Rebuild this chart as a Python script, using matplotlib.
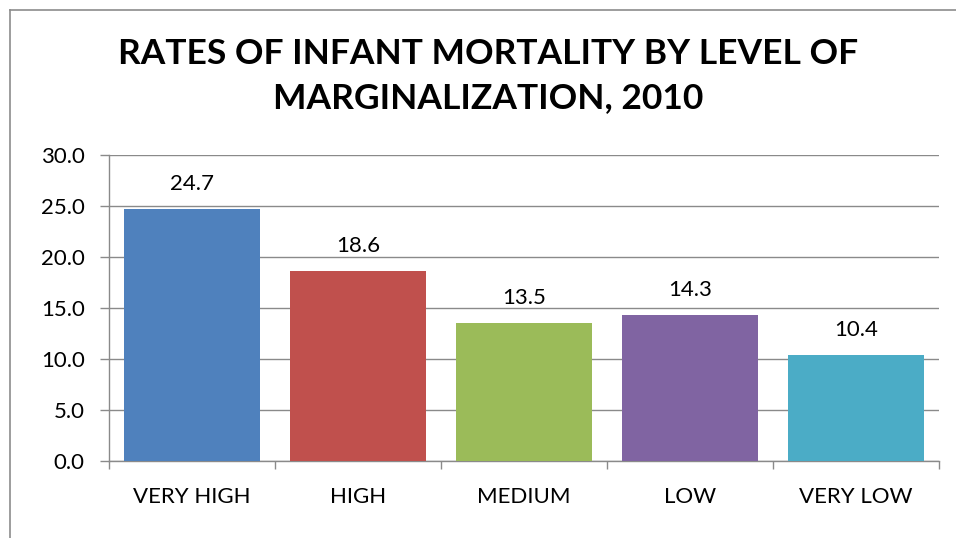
import matplotlib
matplotlib.use("Agg")
import matplotlib.pyplot as plt
from matplotlib.lines import Line2D
import numpy as np

categories = ["VERY HIGH", "HIGH", "MEDIUM", "LOW", "VERY LOW"]
values = [24.7, 18.6, 13.5, 14.3, 10.4]
colors = ["#4F81BD", "#C0504D", "#9BBB59", "#8064A2", "#4BACC6"]
yticks = [0, 5, 10, 15, 20, 25, 30]
title = "RATES OF INFANT MORTALITY BY LEVEL OF\nMARGINALIZATION, 2010"

plt.rcParams['font.family'] = ['Lato', 'DejaVu Sans']

W, H = 956, 538
fig = plt.figure(figsize=(W / 100, H / 100), dpi=100)
fig.patch.set_facecolor("white")

ax = fig.add_axes([109 / W, 1 - 461 / H, (939 - 109) / W, (461 - 155) / H])
x = np.arange(len(categories))
ax.bar(x, values, width=0.82, color=colors, zorder=3)

for xi, v in zip(x, values):
    ax.annotate(f"{v:.1f}", (xi, v), xytext=(0, 18), textcoords="offset points",
                ha="center", va="center", fontsize=16, color="#000000")

ax.set_xlim(-0.5, len(categories) - 0.5)
ax.set_ylim(0, 30)
ax.set_yticks(yticks)
ax.set_yticklabels([f"{t:.1f}" for t in yticks])
ax.yaxis.grid(True, color="#8a8a8a", linewidth=1.0, zorder=0)
ax.set_axisbelow(True)

ax.set_xticks(x)
ax.set_xticklabels(categories)
ax.set_xticks(np.arange(-0.5, len(categories)), minor=True)
ax.tick_params(axis="x", which="major", length=0, pad=19, labelsize=16, labelcolor="#000000")
ax.tick_params(axis="x", which="minor", length=6, width=1, color="#8a8a8a", direction="out")
ax.tick_params(axis="y", length=6.5, width=1, color="#8a8a8a", pad=11, labelsize=16, labelcolor="#000000")

for s in ["top", "right"]:
    ax.spines[s].set_visible(False)
for s in ["left", "bottom"]:
    ax.spines[s].set_color("#8a8a8a")
    ax.spines[s].set_linewidth(1.0)

fig.text(488 / W, 1 - 76 / H, title, ha="center", va="center", fontsize=25.5,
         fontweight="bold", color="#000000", linespacing=1.45)

# outer chart border (top and left visible)
fig.add_artist(Line2D([9.5 / W, 9.5 / W], [0, 1 - 10 / H], color="#8c8c8c", linewidth=1.2, transform=fig.transFigure))
fig.add_artist(Line2D([9.5 / W, 1], [1 - 10 / H, 1 - 10 / H], color="#8c8c8c", linewidth=1.2, transform=fig.transFigure))

fig.savefig("out.png", dpi=100, facecolor="white")
